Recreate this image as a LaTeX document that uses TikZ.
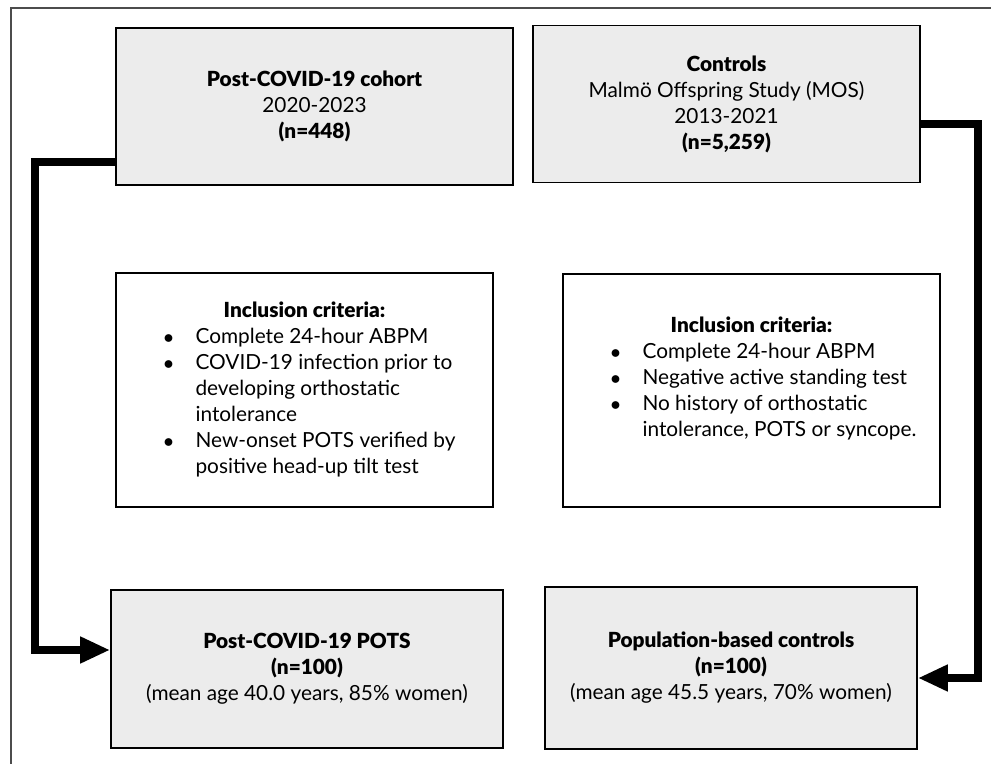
\documentclass[tikz,border=0pt]{standalone}
\usepackage{fontspec}
\setmainfont{Lato}[BoldFont={Lato Black}]
\usetikzlibrary{arrows.meta}
\definecolor{boxgrey}{HTML}{ECECEC}

\begin{document}
\begin{tikzpicture}[x=0.5pt,y=-0.5pt,
  font=\fontsize{10.4}{13}\selectfont,
  greybox/.style={draw,line width=0.9pt,fill=boxgrey,inner sep=0pt,align=center},
  critbox/.style={draw,line width=0.9pt,fill=white,inner sep=0pt},
  flow/.style={line width=4pt,-{Triangle[length=15pt,width=12.5pt]}}]
\useasboundingbox (0,0) rectangle (991,764);
\draw[line width=0.8pt,black!70] (11,790) -- (11,8) -- (1010,8);

% cohorts
\node[greybox,minimum width=198.5pt,minimum height=78.5pt] (cohort) at (314.5,106.5)
  {\textbf{Post-COVID-19 cohort}\\2020-2023\\\textbf{(n=448)}};
\node[greybox,minimum width=193.5pt,minimum height=78.5pt] (controls) at (726.5,104)
  {\textbf{Controls}\\Malmö Offspring Study (MOS)\\2013-2021\\\textbf{(n=5,259)}};

% inclusion criteria
\node[critbox,minimum width=188.5pt,minimum height=117pt] (critpots) at (304.5,390) {%
  \begin{tabular}{@{\hspace{5pt}}c@{\hspace{11pt}}l@{}}
  \multicolumn{2}{@{}c@{}}{\textbf{Inclusion criteria:}}\\
  $\bullet$ & Complete 24-hour ABPM\\
  $\bullet$ & COVID-19 infection prior to\\
            & developing orthostatic\\
            & intolerance\\
  $\bullet$ & New-onset POTS verified by\\
            & positive head-up tilt test
  \end{tabular}};
\node[critbox,minimum width=188.5pt,minimum height=116.5pt] (critctrl) at (751.5,390.5) {%
  \begin{tabular}{@{\hspace{12pt}}c@{\hspace{11pt}}l@{}}
  \multicolumn{2}{@{}c@{}}{\textbf{Inclusion criteria:}}\\
  $\bullet$ & Complete 24-hour ABPM\\
  $\bullet$ & Negative active standing test\\
  $\bullet$ & No history of orthostatic\\
            & intolerance, POTS or syncope.\\[11pt]
  \end{tabular}};

% final groups
\node[greybox,minimum width=196pt,minimum height=79pt] (pots) at (307,669)
  {\textbf{Post-COVID-19 POTS}\\\textbf{(n=100)}\\(mean age 40.0 years, 85\% women)};
\node[greybox,minimum width=186pt,minimum height=81pt] (popctrl) at (731,668)
  {\textbf{Population-based controls}\\\textbf{(n=100)}\\(mean age 45.5 years, 70\% women)};

\draw[flow] (cohort.west |- 0,162) -| (35,650) -- (pots.west |- 0,650);
\draw[flow] (controls.east |- 0,124) -| (978,678) -- (popctrl.east |- 0,678);
\end{tikzpicture}
\end{document}
